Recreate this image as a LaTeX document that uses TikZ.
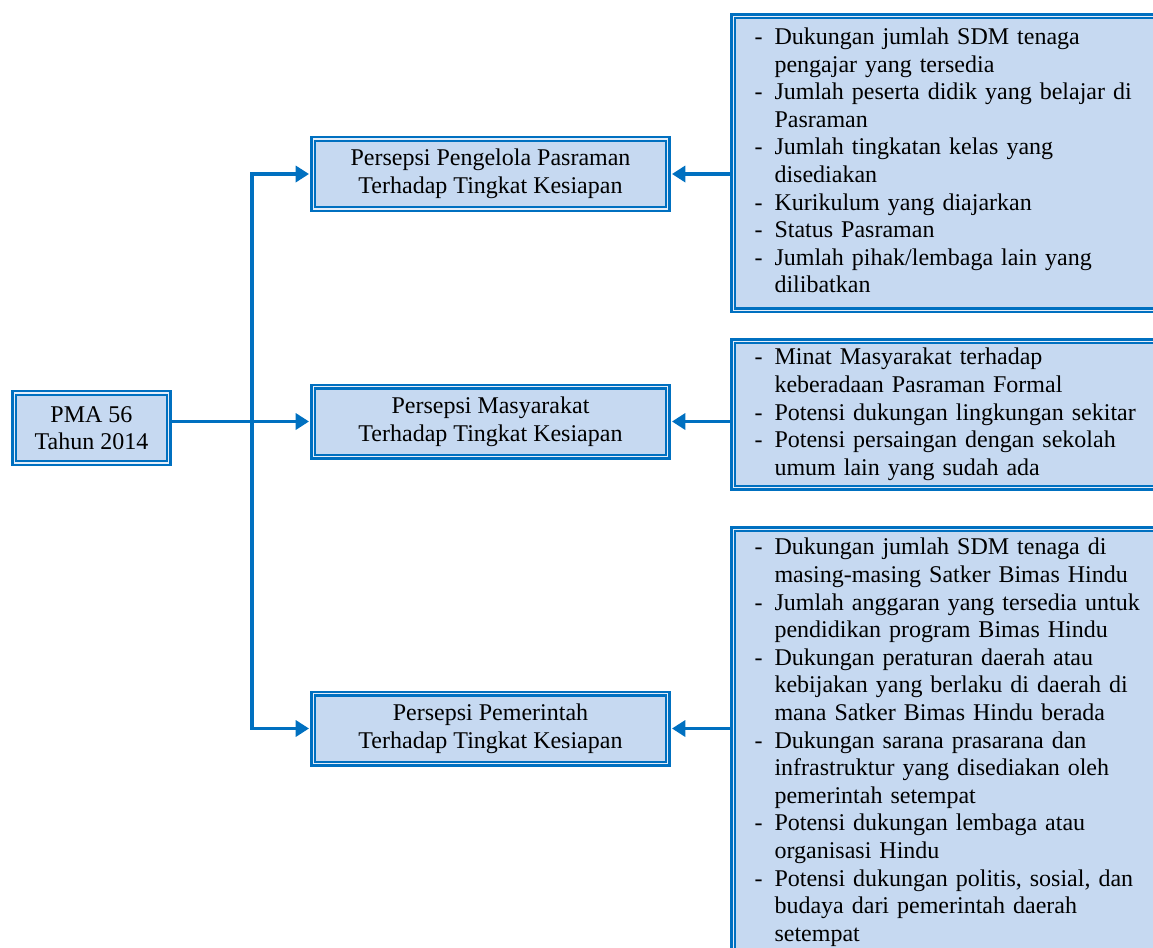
\documentclass[tikz,border=0pt]{standalone}
\usepackage{fontspec}
\setmainfont{Liberation Serif}
\usetikzlibrary{arrows.meta,positioning}
\definecolor{boxblue}{HTML}{0070C0}
\definecolor{boxfill}{HTML}{C6D9F1}
\newcommand{\bul}{\makebox[15pt][l]{-}}
\newcommand{\ind}{\hspace*{15pt}}
\tikzset{
  dbox/.style={draw=boxblue, fill=boxfill, line width=1.8pt, double=white!55!boxfill, double distance=0.9pt,
    font=\fontsize{18}{20.7}\selectfont, align=center, inner sep=0pt},
  listbox/.style={dbox, anchor=north west, align=left, text width=320pt, inner xsep=16pt, inner ysep=0pt,
    execute at begin node=\strut, execute at end node=\strut},
  conn/.style={boxblue, line width=2.6pt},
  arr/.style={conn, -{Triangle[length=10pt,width=12pt]}, shorten >=2.2pt}
}
\begin{document}
\begin{tikzpicture}[x=0.75pt,y=0.75pt,yscale=-1,xscale=1]
    \useasboundingbox (0,0) rectangle (1153,947);

    % Left box
    \node [dbox, minimum width=116pt, minimum height=52.5pt] (pma) at (91.5,428) {PMA 56\\Tahun 2014};

    % Middle boxes
    \node [dbox, minimum width=266pt, minimum height=52.5pt] (p1) at (490.5,174) {Persepsi Pengelola Pasraman\\Terhadap Tingkat Kesiapan};
    \node [dbox, minimum width=266pt, minimum height=52.5pt] (p2) at (490.5,421.5) {Persepsi Masyarakat\\Terhadap Tingkat Kesiapan};
    \node [dbox, minimum width=266pt, minimum height=52.5pt] (p3) at (490.5,728.5) {Persepsi Pemerintah\\Terhadap Tingkat Kesiapan};

    % Right boxes
    \node [listbox, minimum height=220.5pt] (r1) at (732,15) {\bul Dukungan jumlah SDM tenaga\\
      \ind pengajar yang tersedia\\
      \bul Jumlah peserta didik yang belajar di\\
      \ind Pasraman\\
      \bul Jumlah tingkatan kelas yang\\
      \ind disediakan\\
      \bul Kurikulum yang diajarkan\\
      \bul Status Pasraman\\
      \bul Jumlah pihak/lembaga lain yang\\
      \ind dilibatkan};
    \node [listbox, minimum height=110pt] (r2) at (732,340) {\bul Minat Masyarakat terhadap\\
      \ind keberadaan Pasraman Formal\\
      \bul Potensi dukungan lingkungan sekitar\\
      \bul Potensi persaingan dengan sekolah\\
      \ind umum lain yang sudah ada};
    \node [listbox, minimum height=320pt] (r3) at (732,528) {\bul Dukungan jumlah SDM tenaga di\\
      \ind masing-masing Satker Bimas Hindu\\
      \bul Jumlah anggaran yang tersedia untuk\\
      \ind pendidikan program Bimas Hindu\\
      \bul Dukungan peraturan daerah atau\\
      \ind kebijakan yang berlaku di daerah di\\
      \ind mana Satker Bimas Hindu berada\\
      \bul Dukungan sarana prasarana dan\\
      \ind infrastruktur yang disediakan oleh\\
      \ind pemerintah setempat\\
      \bul Potensi dukungan lembaga atau\\
      \ind organisasi Hindu\\
      \bul Potensi dukungan politis, sosial, dan\\
      \ind budaya dari pemerintah daerah\\
      \ind setempat};

    % Connectors
    \path (p1.west) ++(-60,0) coordinate (jt);
    \path (p3.west) ++(-60,0) coordinate (jb);
    \draw [arr] (jb) |- (p1.west);
    \draw [arr] (jt) |- (p3.west);
    \draw [arr] (pma.east |- p2) -- (p2.west);
    \draw [arr] (r1.west |- p1) -- (p1.east);
    \draw [arr] (r2.west |- p2) -- (p2.east);
    \draw [arr] (r3.west |- p3) -- (p3.east);
\end{tikzpicture}
\end{document}
